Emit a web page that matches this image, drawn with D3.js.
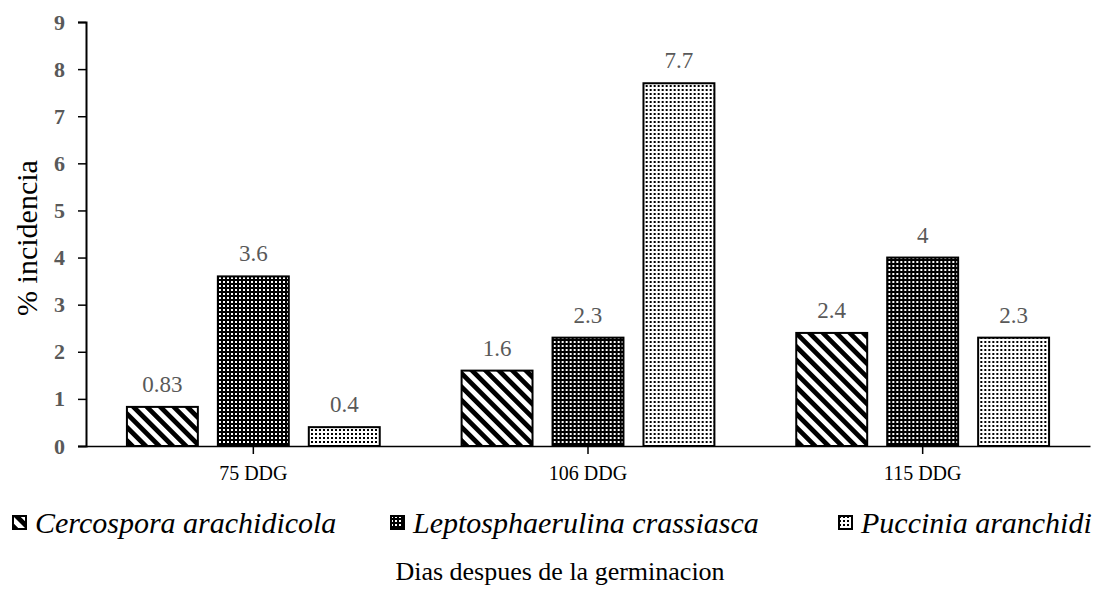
<!DOCTYPE html>
<html>
<head>
<meta charset="utf-8">
<script src="https://cdn.jsdelivr.net/npm/d3@7"></script>
<style>
  html, body { margin: 0; padding: 0; background: #fff; }
  svg { display: block; }
</style>
</head>
<body>
<svg id="chart" width="1115" height="605"></svg>
<script>
// Incidence (%) of each pathogen at three sampling dates
const categories = ["75 DDG", "106 DDG", "115 DDG"];
const seriesNames = ["Cercospora arachidicola", "Leptosphaerulina crassiasca", "Puccinia aranchidi"];
const cercospora = [0.83, 1.6, 2.4];
const leptosphaerulina = [3.6, 2.3, 4];
const puccinia = [0.4, 7.7, 2.3];
const yTicks = [0, 1, 2, 3, 4, 5, 6, 7, 8, 9];

const seriesValues = [cercospora, leptosphaerulina, puccinia];
const patternIds = ["pat-stripe", "pat-dark", "pat-dots"];

const svg = d3.select("#chart");
const serif = "'Liberation Serif', 'Times New Roman', serif";

// Hatch fills
const defs = svg.append("defs");
const stripe = defs.append("pattern")
  .attr("id", "pat-stripe").attr("patternUnits", "userSpaceOnUse")
  .attr("width", 9.5).attr("height", 9.5)
  .attr("patternTransform", "rotate(-45)");
stripe.append("rect").attr("width", 9.5).attr("height", 9.5).attr("fill", "#fff");
stripe.append("rect").attr("width", 4.75).attr("height", 9.5).attr("fill", "#000");

const dark = defs.append("pattern")
  .attr("id", "pat-dark").attr("patternUnits", "userSpaceOnUse")
  .attr("width", 4).attr("height", 4);
dark.append("rect").attr("width", 4).attr("height", 4).attr("fill", "#000");
dark.append("rect").attr("x", 1).attr("y", 1).attr("width", 2).attr("height", 2).attr("fill", "#fff");

const dots = defs.append("pattern")
  .attr("id", "pat-dots").attr("patternUnits", "userSpaceOnUse")
  .attr("width", 4).attr("height", 4);
dots.append("rect").attr("width", 4).attr("height", 4).attr("fill", "#fff");
dots.append("rect").attr("x", 1).attr("y", 1).attr("width", 2).attr("height", 2).attr("fill", "#000");

// Scales
const plot = { left: 86, right: 1090, top: 22, bottom: 446 };
const x0 = d3.scaleBand().domain(categories).range([plot.left, plot.right]).paddingInner(0).paddingOuter(0);
const x1 = d3.scaleBand().domain(d3.range(seriesNames.length))
  .range([0, x0.bandwidth()]).paddingInner(0.22).paddingOuter(0.45);
const y = d3.scaleLinear().domain([0, 9]).range([plot.bottom, plot.top]);

// Bars
const groups = svg.append("g").selectAll("g")
  .data(categories)
  .join("g")
  .attr("transform", c => `translate(${x0(c)},0)`);

groups.selectAll("rect")
  .data((c, ci) => seriesValues.map((vals, si) => ({ si, v: vals[ci] })))
  .join("rect")
  .attr("x", d => x1(d.si))
  .attr("y", d => y(d.v))
  .attr("width", x1.bandwidth())
  .attr("height", d => y(0) - y(d.v))
  .attr("fill", d => `url(#${patternIds[d.si]})`)
  .attr("stroke", "#000")
  .attr("stroke-width", 2);

// Value labels
groups.selectAll("text")
  .data((c, ci) => seriesValues.map((vals, si) => ({ si, v: vals[ci] })))
  .join("text")
  .attr("x", d => x1(d.si) + x1.bandwidth() / 2)
  .attr("y", d => y(d.v) - 15)
  .attr("text-anchor", "middle")
  .style("font-family", serif)
  .style("font-size", "23px")
  .attr("fill", "#595959")
  .text(d => String(d.v));

// Y axis
const yAxis = svg.append("g")
  .attr("transform", `translate(${plot.left},0)`)
  .call(d3.axisLeft(y).tickValues(yTicks).tickSize(8).tickPadding(13).tickFormat(d3.format("d")));
yAxis.select(".domain").attr("stroke", "#000").attr("stroke-width", 2);
yAxis.selectAll(".tick line").attr("stroke", "#000").attr("stroke-width", 1.5);
yAxis.selectAll(".tick text")
  .style("font-family", serif).style("font-size", "22px").style("font-weight", "bold")
  .attr("fill", "#595959");

// X axis
const xAxis = svg.append("g")
  .attr("transform", `translate(0,${plot.bottom})`)
  .call(d3.axisBottom(x0).tickSize(8).tickPadding(12).tickSizeOuter(0));
xAxis.select(".domain").attr("stroke", "#000").attr("stroke-width", 1.5);
xAxis.selectAll(".tick line").attr("stroke", "#000").attr("stroke-width", 1.5);
xAxis.selectAll(".tick text")
  .style("font-family", serif).style("font-size", "20px").attr("fill", "#000");

// Axis titles
svg.append("text")
  .attr("transform", "translate(37,238) rotate(-90)")
  .attr("text-anchor", "middle")
  .style("font-family", serif).style("font-size", "30px").attr("fill", "#000")
  .text("% incidencia");

svg.append("text")
  .attr("x", 560).attr("y", 580)
  .attr("text-anchor", "middle")
  .style("font-family", serif).style("font-size", "26px").attr("fill", "#000")
  .text("Dias despues de la germinacion");

// Legend
const legendX = [12, 390, 838];
const legend = svg.append("g").selectAll("g")
  .data(seriesNames)
  .join("g")
  .attr("transform", (d, i) => `translate(${legendX[i]},515)`);
legend.append("rect")
  .attr("x", 1).attr("y", 1).attr("width", 13).attr("height", 13)
  .attr("fill", (d, i) => `url(#${patternIds[i]})`)
  .attr("stroke", "#000").attr("stroke-width", 2);
legend.append("text")
  .attr("x", 23).attr("y", 18)
  .style("font-family", serif).style("font-size", "30px").style("font-style", "italic")
  .attr("fill", "#000")
  .text(d => d);
</script>
</body>
</html>
